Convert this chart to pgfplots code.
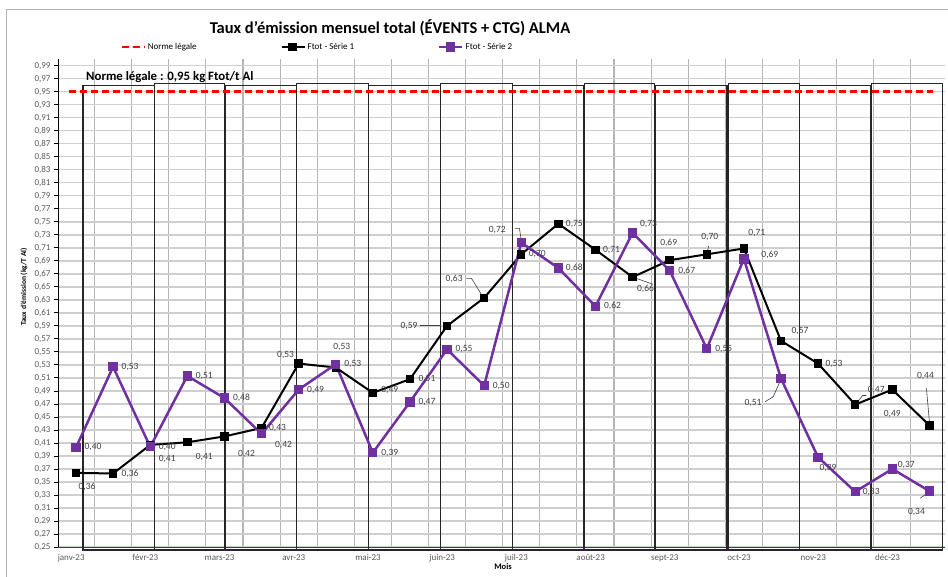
\documentclass[border=0pt]{standalone}
\usepackage{fontspec}
\setmainfont{Carlito}
\usepackage{pgfplots}
\usepackage{pgfplotstable}
\pgfplotsset{compat=1.18}
\definecolor{serieB}{HTML}{7030A0}
\definecolor{ticktext}{HTML}{595959}
\definecolor{labtext}{HTML}{404040}
\definecolor{gridc}{HTML}{CFCFCF}
\definecolor{vgridc}{HTML}{B4B4B4}

\pgfplotstableread{
x y lab dx dy
0 0.364 0,36 11 -14
1 0.363 0,36 17 0
2 0.407 0,41 17 -14
3 0.411 0,41 17 -15
4 0.420 0,42 22 -18
5 0.433 0,43 16 0
6 0.532 0,53 -13 9
7 0.526 0,53 6 20
8 0.487 0,49 17 3
9 0.508 0,51 17 0
10 0.590 0,59 -38 0
11 0.633 0,63 -30 19
12 0.700 0,70 16 0
13 0.747 0,75 16 0
14 0.707 0,71 16 0
15 0.665 0,66 13 -12
16 0.691 0,69 -1 17
17 0.700 0,70 3 17
18 0.709 0,71 13 15
19 0.567 0,57 19 10
20 0.532 0,53 16 0
21 0.469 0,47 21 15
22 0.492 0,49 0 -24
23 0.437 0,44 -4 49
}\serieA

\pgfplotstableread{
x y lab dx dy
0 0.403 0,40 17 0
1 0.527 0,53 17 0
2 0.404 0,40 17 0
3 0.513 0,51 17 0
4 0.479 0,48 17 0
5 0.424 0,42 22 -11
6 0.492 0,49 17 0
7 0.531 0,53 17 0
8 0.395 0,39 17 0
9 0.473 0,47 17 0
10 0.554 0,55 17 0
11 0.498 0,50 17 0
12 0.718 0,72 -24 13
13 0.679 0,68 16 0
14 0.620 0,62 17 0
15 0.733 0,73 16 9
16 0.675 0,67 17 0
17 0.555 0,55 17 0
18 0.693 0,69 26 4
19 0.509 0,51 -28 -24
20 0.388 0,39 10 -11
21 0.335 0,33 16 0
22 0.370 0,37 14 4
23 0.336 0,34 -13 -21
}\serieB

\begin{document}
\begin{tikzpicture}
\useasboundingbox (0,0) rectangle (948pt,576pt);
\draw[gray!60, line width=0.8pt] (6.5pt,-2pt) -- (6.5pt,567pt) -- (952pt,567pt);
\begin{axis}[
  at={(58pt,29pt)}, anchor=south west,
  scale only axis, width=887pt, height=487.8pt,
  xmin=-0.485, xmax=23.42, ymin=0.25, ymax=1.0,
  clip=false,
  axis x line*=bottom, axis y line*=left,
  x axis line style={draw=green!40!black, line width=1pt},
  y axis line style={draw=black, line width=1pt},
  /pgf/number format/assume math mode=true,
  ytick={0.25,0.27,0.29,0.31,0.33,0.35,0.37,0.39,0.41,0.43,0.45,0.47,0.49,0.51,0.53,0.55,0.57,0.59,0.61,0.63,0.65,0.67,0.69,0.71,0.73,0.75,0.77,0.79,0.81,0.83,0.85,0.87,0.89,0.91,0.93,0.95,0.97,0.99},
  yticklabel style={/pgf/number format/.cd, fixed, fixed zerofill, precision=2, use comma},
  ticklabel style={font=\fontsize{9}{10}\selectfont, text=ticktext},
  xtick={-0.13,1.87,3.87,5.87,7.87,9.87,11.87,13.87,15.87,17.87,19.87,21.87},
  xticklabels={janv-23,févr-23,mars-23,avr-23,mai-23,juin-23,juil-23,août-23,sept-23,oct-23,nov-23,déc-23},
  xtick style={draw=none},
  ytick style={draw=black, line width=0.8pt},
  tick align=outside, major tick length=4pt,
  minor xtick={0.5,1.5,2.5,3.5,4.5,5.5,6.5,7.5,8.5,9.5,10.5,11.5,12.5,13.5,14.5,15.5,16.5,17.5,18.5,19.5,20.5,21.5,22.5},
  minor tick length=0pt,
  ymajorgrids, xminorgrids,
  major grid style={draw=gridc, line width=1.4pt},
  minor grid style={draw=vgridc, line width=1.1pt},
  legend columns=3,
  legend style={at={(axis description cs:0.0699,1.025)}, anchor=west, draw=none, fill=none, inner sep=0pt,
    font=\fontsize{9}{10}\selectfont,
    /tikz/every even column/.append style={column sep=82pt}},
  legend image code/.code={\draw[mark repeat=2,mark phase=2,#1] plot coordinates {(0pt,0pt) (11pt,0pt) (23pt,0pt)};},
]
% decorative month boxes
\draw[black!85, line width=1.1pt] (axis cs:0.189,0.2454) rectangle (axis cs:2.108,0.960);
\draw[black!85, line width=1.1pt] (axis cs:2.108,0.2454) rectangle (axis cs:4.000,0.962);
\draw[black!85, line width=1.1pt] (axis cs:4.040,0.2454) rectangle (axis cs:5.938,0.960);
\draw[black!85, line width=1.1pt] (axis cs:5.938,0.2454) rectangle (axis cs:7.876,0.962);
\draw[black!85, line width=1.1pt] (axis cs:7.876,0.2454) rectangle (axis cs:9.830,0.960);
\draw[black!85, line width=1.1pt] (axis cs:9.830,0.2454) rectangle (axis cs:11.771,0.962);
\draw[black!85, line width=1.1pt] (axis cs:11.771,0.2454) rectangle (axis cs:13.680,0.960);
\draw[black!85, line width=1.1pt] (axis cs:13.710,0.2454) rectangle (axis cs:15.590,0.962);
\draw[black!85, line width=1.1pt] (axis cs:15.620,0.2454) rectangle (axis cs:17.545,0.960);
\draw[black!85, line width=1.1pt] (axis cs:17.575,0.2454) rectangle (axis cs:19.496,0.962);
\draw[black!85, line width=1.1pt] (axis cs:19.496,0.2454) rectangle (axis cs:21.400,0.960);
\draw[black!85, line width=1.1pt] (axis cs:21.440,0.2454) rectangle (axis cs:23.342,0.962);

% leader lines of some data labels
\draw[labtext, line width=0.6pt] (axis cs:9.27,0.5905) -- (axis cs:9.85,0.5905);
\draw[labtext, line width=0.6pt] (axis cs:10.52,0.663) -- (axis cs:10.66,0.663) -- (axis cs:10.95,0.636);
\draw[labtext, line width=0.6pt] (axis cs:11.83,0.740) -- (axis cs:11.95,0.740) -- (axis cs:12.0,0.722);
\draw[labtext, line width=0.6pt] (axis cs:22.92,0.494) -- (axis cs:23.0,0.442);
\draw[labtext, line width=0.6pt] (axis cs:18.57,0.4734) -- (axis cs:18.79,0.481) -- (axis cs:19.0,0.508);
\draw[labtext, line width=0.6pt] (axis cs:22.75,0.325) -- (axis cs:22.95,0.333);
\draw[labtext, line width=0.6pt] (axis cs:21.05,0.472) -- (axis cs:21.2,0.483) -- (axis cs:21.3,0.483);
\draw[labtext, line width=0.6pt] (axis cs:15.55,0.654) -- (axis cs:15.1,0.663);
\draw[labtext, line width=0.6pt] (axis cs:17.0,0.700) -- (axis cs:17.05,0.713);

\addplot[red, line width=2.6pt, dash pattern=on 7pt off 4pt] coordinates {(-0.2,0.95) (23.1,0.95)};
\addlegendentry{Norme légale}

\addplot[black, line width=2pt, mark=square*, mark size=3.2pt, mark options={solid},
  point meta=explicit symbolic,
  visualization depends on={\thisrow{dx}\as\labdx},
  visualization depends on={\thisrow{dy}\as\labdy},
  nodes near coords={\pgfplotspointmeta},
  nodes near coords style={anchor=center, xshift=\labdx*1pt, yshift=\labdy*1pt, text=labtext, font=\fontsize{9.5}{10}\selectfont, inner sep=0pt}]
  table[x=x, y=y, meta=lab] {\serieA};
\addlegendentry{Ftot - Série 1}

\addplot[serieB, line width=2.5pt, mark=square*, mark size=3.4pt, mark options={solid},
  point meta=explicit symbolic,
  visualization depends on={\thisrow{dx}\as\labdx},
  visualization depends on={\thisrow{dy}\as\labdy},
  nodes near coords={\pgfplotspointmeta},
  nodes near coords style={anchor=center, xshift=\labdx*1pt, yshift=\labdy*1pt, text=labtext, font=\fontsize{9.5}{10}\selectfont, inner sep=0pt}]
  table[x=x, y=y, meta=lab] {\serieB};
\addlegendentry{Ftot - Série 2}

\node[anchor=west, inner sep=0pt, font=\bfseries\fontsize{12.8}{14}\selectfont] at (axis cs:0.27,0.9726) {Norme légale : 0,95 kg Ftot/t Al};
\end{axis}
\node[font=\bfseries\fontsize{16.5}{18}\selectfont] at (390pt,548pt) {Taux d'émission mensuel total (ÉVENTS + CTG) ALMA};
\node[rotate=90, font=\bfseries\fontsize{7.5}{8}\selectfont] at (24pt,289pt) {Taux d'émission (kg/T Al)};
\node[font=\bfseries\fontsize{8.5}{9}\selectfont] at (503pt,9pt) {Mois};
\end{tikzpicture}
\end{document}
